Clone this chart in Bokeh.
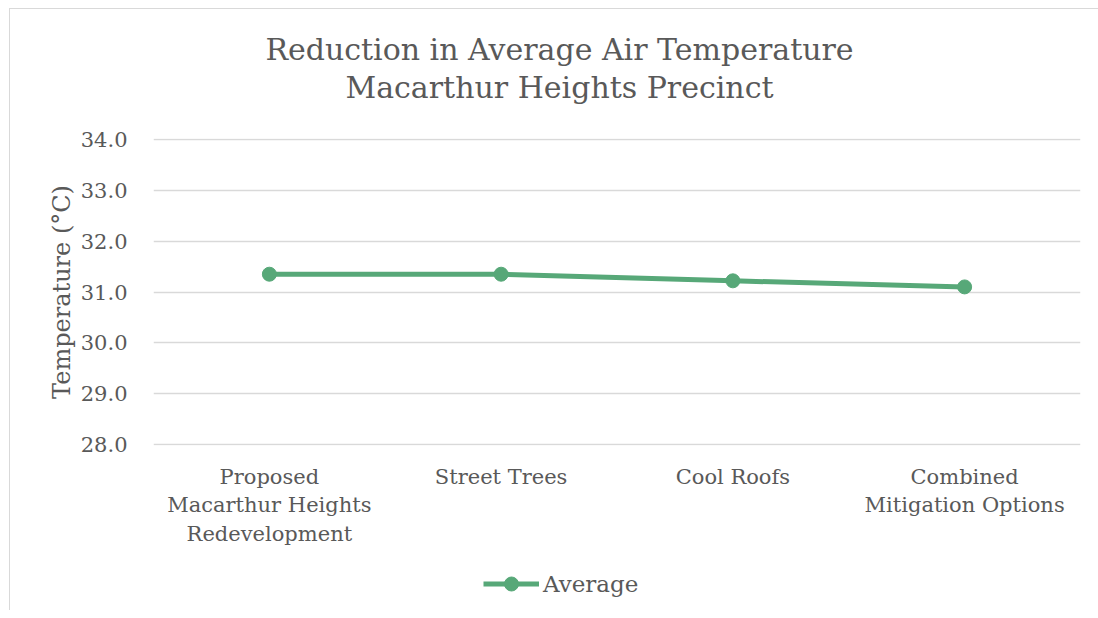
from bokeh.plotting import figure
from bokeh.layouts import column
from bokeh.models import Label, Legend, LegendItem, FixedTicker, Range1d, NumeralTickFormatter, FactorRange
from bokeh.embed import file_html
from bokeh.resources import INLINE

categories = ["Proposed\nMacarthur Heights\nRedevelopment", "Street Trees", "Cool Roofs", "Combined\nMitigation Options"]
average = [31.35, 31.35, 31.22, 31.10]
y_ticks = [28, 29, 30, 31, 32, 33, 34]
title_lines = ["Reduction in Average Air Temperature", "Macarthur Heights Precinct"]
series_name = "Average"

FONT = "DejaVu Serif"
TXT = "#595959"
GREEN = "#57A878"
W = 1088


def blank(h):
    f = figure(width=W, height=h, output_backend="svg", toolbar_location=None,
               x_axis_type=None, y_axis_type=None,
               x_range=FactorRange(*categories), y_range=Range1d(0, 1), min_border=0)
    f.outline_line_color = None
    f.grid.visible = False
    f.title.visible = False
    return f


# --- title strip ---
top = blank(118)
for i, t in enumerate(title_lines):
    top.add_layout(Label(x=406, y=78 - i * 38, x_units="screen", y_units="screen", text=t,
                         text_align="center", text_baseline="middle", text_font=FONT,
                         text_font_size="30px", text_color=TXT))

# --- main chart ---
p = figure(x_range=categories, y_range=Range1d(27.98, 34.02), width=W, height=428,
           output_backend="svg", toolbar_location=None,
           min_border_left=143, min_border_right=18, min_border_top=11, min_border_bottom=110)
p.title.visible = False
p.outline_line_color = None

r = p.line(categories, average, line_color=GREEN, line_width=5)
c = p.scatter(categories, average, size=14, fill_color=GREEN, line_color=GREEN)

p.yaxis.ticker = FixedTicker(ticks=y_ticks)
p.yaxis.formatter = NumeralTickFormatter(format="0.0")
for ax in (p.xaxis[0], p.yaxis[0]):
    ax.axis_line_color = None
    ax.major_tick_line_color = None
    ax.minor_tick_line_color = None
    ax.major_label_text_font = FONT
    ax.major_label_text_color = TXT
    ax.major_label_text_font_size = "21px"
    ax.axis_label_text_font = FONT
    ax.axis_label_text_color = TXT
    ax.axis_label_text_font_style = "normal"
p.yaxis.major_label_standoff = 20
p.xaxis.major_label_standoff = 13
p.yaxis.axis_label = "Temperature (°C)"
p.yaxis.axis_label_text_font_size = "24px"
p.yaxis.axis_label_standoff = 2

p.xgrid.grid_line_color = None
p.ygrid.grid_line_color = "#d9d9d9"
p.ygrid.grid_line_width = 1.5

# --- legend strip (series drawn off-range, only its legend sample shows) ---
bot = blank(55)
lr = bot.line(categories, average, line_color=GREEN, line_width=5)
lc = bot.scatter(categories, average, size=14, fill_color=GREEN, line_color=GREEN)
legend = Legend(items=[LegendItem(label=series_name, renderers=[lr, lc])],
                location=(330, 9), orientation="horizontal",
                label_text_font=FONT, label_text_font_size="23px", label_text_color=TXT,
                glyph_width=56, glyph_height=35, border_line_color=None, background_fill_alpha=0,
                label_standoff=4, padding=4, margin=0)
bot.add_layout(legend, "center")

layout = column(top, p, bot, spacing=0)
layout.styles = {"border-top": "1px solid #d9d9d9", "border-left": "1px solid #d9d9d9",
                 "margin-left": "9px", "margin-top": "8px"}

open("out.html", "w").write(file_html(layout, INLINE))
